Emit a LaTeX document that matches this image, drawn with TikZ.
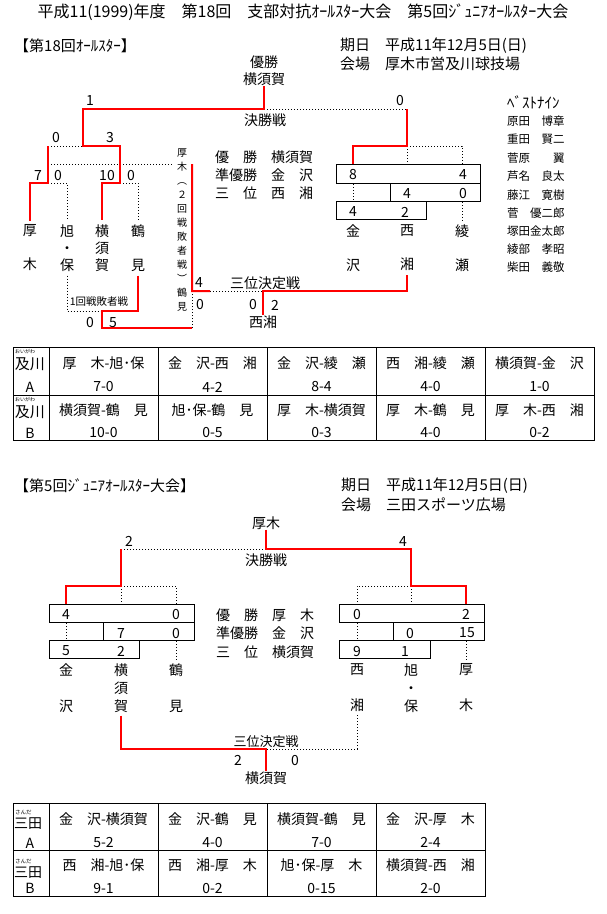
\documentclass[tikz,border=0pt]{standalone}
\usepackage{fontspec}
\setmainfont{Noto Sans CJK JP}
\usetikzlibrary{positioning}
\newcommand{\jfs}[1]{\fontsize{#1}{#1}\selectfont}

\begin{document}
\begin{tikzpicture}[x=1pt, y=-1pt,
	win/.style={draw=red, line width=2pt},
	lose/.style={draw=black, line width=1pt, dash pattern=on 1pt off 2pt},
	cell/.style={draw=black, line width=1pt},
	every node/.style={inner sep=0pt, font=\jfs{14}},
	team/.style={align=center, inner ysep=4pt, font=\fontsize{14}{17}\selectfont},
	teamb/.style={align=center, inner ysep=3pt, font=\fontsize{14}{18}\selectfont},
	small/.style={font=\jfs{10.5}}]
	\useasboundingbox (0,0) rectangle (607,914);
	
	\node[font=\jfs{16}] (title) at (303,12) {平成11(1999)年度　第18回　支部対抗ｵｰﾙｽﾀｰ大会　第5回ｼﾞｭﾆｱｵｰﾙｽﾀｰ大会};
	
	% 第18回オールスター
	\node[anchor=west, font=\jfs{15}] (head1) at (14,46) {【第18回ｵｰﾙｽﾀｰ】};
	\node[anchor=west, font=\jfs{15}] (date1) at (340,46) {期日　平成11年12月5日(日)};
	\node[anchor=west, font=\jfs{15}] (place1) at (340,64) {会場　厚木市営及川球技場};
	\node (champ1a) at (264,62) {優勝};
	\node[below=4pt of champ1a] (champ1) {横須賀};
	
	\coordinate (fin1) at (264,109);
	\coordinate (finR1) at (407,109);
	\coordinate (semi1) at (83,146);
	\coordinate (semiL1) at (48,146);
	\coordinate (semiR1) at (120,146);
	\coordinate (r1a) at (48,183);
	\coordinate (r1b) at (120,183);
	\coordinate (grp1) at (407,146);
	\coordinate (lb1) at (48,164);
	\coordinate (lb2) at (192,291);
	\coordinate (lb1s) at (102,311);
	\coordinate (lb1b) at (102,328);
	\coordinate (lb1c) at (192,328);
	\coordinate (third1L) at (210,291);
	\coordinate (third1) at (263,291);
	
	\node[team] (atsugi1) at (30,248) {厚\\\phantom{木}\\木};
	\node[team] (asahi1) at (67,248) {旭\\・\\保};
	\node[team] (yoko1) at (102,248) {横\\須\\賀};
	\node[team] (tsuru1) at (138,248) {鶴\\\phantom{見}\\見};
	\node[team] (kana1) at (353,248) {金\\\phantom{沢}\\沢};
	\node[team] (nishi1) at (407,248) {西\\\phantom{湘}\\湘};
	\node[team] (aya1) at (462,248) {綾\\\phantom{瀬}\\瀬};
	
	\node[cell, minimum width=144pt, minimum height=19pt, anchor=north west] (rr1a) at (336,164) {};
	\node[cell, minimum width=90pt, minimum height=18pt, anchor=north west] (rr1b) at (390,183) {};
	\node[cell, minimum width=90pt, minimum height=18pt, anchor=north west] (rr1c) at (336,201) {};
	
	\node[align=center, inner xsep=5pt, font=\fontsize{10}{14}\selectfont] (loser2nd) at (182,230) {厚\\木\\︵\\２\\回\\戦\\敗\\者\\戦\\︶\\鶴\\見};
	\node (bronze1) at (263,322) {西湘};
	
	\draw[lose] (fin1) -- (finR1);
	\draw[lose] (semiL1) -- (semi1);
	\draw[lose] (r1a) -| (asahi1.north);
	\draw[lose] (r1b) -| (tsuru1.north);
	\draw[lose] (grp1) -| (rr1a.north -| aya1);
	\draw[lose] (grp1) -- (rr1a.north -| nishi1);
	\draw[lose] (rr1a.south -| kana1) -- (rr1c.north -| kana1);
	\draw[lose] (rr1b.south -| aya1) -- (aya1.north);
	\draw[lose] (lb1) -- (lb1 -| loser2nd.west);
	\draw[lose] (third1L) -- (third1);
	\draw[lose] (asahi1.south) |- (lb1s);
	\draw[lose] (lb1c) -- (lb2);
	
	\draw[win] (champ1) -- (fin1) -| (semi1) -- (semiR1) -- (r1b) -| (yoko1.north);
	\draw[win] (semiL1) -- (r1a) -| (atsugi1.north);
	\draw[win] (finR1) -- (grp1) -| (rr1a.north -| kana1);
	\draw[win] (lb1 -| loser2nd.east) -- (lb2) -- (third1L);
	\draw[win] (nishi1.south) |- (third1) -- (bronze1);
	\draw[win] (tsuru1.south) |- (lb1s) -- (lb1b) -- (lb1c);
	
	\node (s1a) at (90,101) {1};
	\node (s1b) at (400,101) {0};
	\node (final1) at (265,120) {決勝戦};
	\node (s1c) at (56,138) {0};
	\node (s1d) at (110,138) {3};
	\node (s1e) at (38,176) {7};
	\node (s1f) at (58,176) {0};
	\node (s1g) at (107,176) {10};
	\node (s1h) at (131,176) {0};
	\node (s1i) at (199,283) {4};
	\node (s1j) at (200,305) {0};
	\node (thirdlbl1) at (265,283) {三位決定戦};
	\node (s1k) at (253,305) {0};
	\node (s1l) at (275,305) {2};
	\node[small] (lb1lbl) at (99,302) {1回戦敗者戦};
	\node (s1m) at (90,323) {0};
	\node (s1n) at (113,323) {5};
	
	\node (g1a) at (353,175) {8};
	\node (g1b) at (463,175) {4};
	\node (g1c) at (407,194) {4};
	\node (g1d) at (463,194) {0};
	\node (g1e) at (353,212) {4};
	\node (g1f) at (405,212) {2};
	
	\node[anchor=west] (res1a) at (215,157) {優　勝　横須賀};
	\node[anchor=west] (res1b) at (215,175) {準優勝　金　沢};
	\node[anchor=west] (res1c) at (215,193) {三　位　西　湘};
	
	\node[anchor=west, font=\jfs{15}] (best) at (507,102) {ﾍﾞｽﾄﾅｲﾝ};
	\node[anchor=west, font=\jfs{11.5}] (bn1) at (507,121) {原田　博章};
	\node[anchor=west, font=\jfs{11.5}] (bn2) at (507,139) {重田　賢二};
	\node[anchor=west, font=\jfs{11.5}] (bn3) at (507,158) {菅原　　翼};
	\node[anchor=west, font=\jfs{11.5}] (bn4) at (507,176) {芦名　良太};
	\node[anchor=west, font=\jfs{11.5}] (bn5) at (507,195) {藤江　寛樹};
	\node[anchor=west, font=\jfs{11.5}] (bn6) at (507,213) {菅　優二郎};
	\node[anchor=west, font=\jfs{11.5}] (bn7) at (507,231) {塚田金太郎};
	\node[anchor=west, font=\jfs{11.5}] (bn8) at (507,249) {綾部　孝昭};
	\node[anchor=west, font=\jfs{11.5}] (bn9) at (507,267) {柴田　義敬};
	
	% 及川 table
	\draw[cell] (13,347) rectangle (594,440);
	\draw[cell] (13,395) -- (594,395);
	\draw[cell] (49,347) -- (49,440);
	\draw[cell] (158,347) -- (158,440);
	\draw[cell] (267,347) -- (267,440);
	\draw[cell] (376,347) -- (376,440);
	\draw[cell] (485,347) -- (485,440);
	\node[anchor=west, font=\jfs{5}] (rubyA) at (15,351) {おいがわ};
	\node[font=\jfs{15}] (oiA) at (30,364) {及川};
	\node (oiAl) at (30,387) {A};
	\node[anchor=west, font=\jfs{5}] (rubyB) at (15,399) {おいがわ};
	\node[font=\jfs{15}] (oiB) at (30,412) {及川};
	\node (oiBl) at (30,433) {B};
	\node (ta1) at (103.5,363) {厚　木-旭･保};
	\node (ta2) at (212.5,363) {金　沢-西　湘};
	\node (ta3) at (321.5,363) {金　沢-綾　瀬};
	\node (ta4) at (430.5,363) {西　湘-綾　瀬};
	\node (ta5) at (539.5,363) {横須賀-金　沢};
	\node (sa1) at (103.5,387) {7-0};
	\node (sa2) at (212.5,387) {4-2};
	\node (sa3) at (321.5,387) {8-4};
	\node (sa4) at (430.5,387) {4-0};
	\node (sa5) at (539.5,387) {1-0};
	\node (tb1) at (103.5,410) {横須賀-鶴　見};
	\node (tb2) at (212.5,410) {旭･保-鶴　見};
	\node (tb3) at (321.5,410) {厚　木-横須賀};
	\node (tb4) at (430.5,410) {厚　木-鶴　見};
	\node (tb5) at (539.5,410) {厚　木-西　湘};
	\node (sb1) at (103.5,433) {10-0};
	\node (sb2) at (212.5,433) {0-5};
	\node (sb3) at (321.5,433) {0-3};
	\node (sb4) at (430.5,433) {4-0};
	\node (sb5) at (539.5,433) {0-2};
	
	% 第5回ジュニアオールスター
	\node[anchor=west, font=\jfs{15}] (head2) at (14,486) {【第5回ｼﾞｭﾆｱｵｰﾙｽﾀｰ大会】};
	\node[anchor=west, font=\jfs{15}] (date2) at (341,486) {期日　平成11年12月5日(日)};
	\node[anchor=west, font=\jfs{15}] (place2) at (341,505) {会場　三田スポーツ広場};
	\node (champ2) at (266,523) {厚木};
	
	\coordinate (fin2) at (266,549);
	\coordinate (finL2) at (121,549);
	\coordinate (finR2) at (411,549);
	\coordinate (grpL2) at (121,586);
	\coordinate (grpR2) at (411,586);
	\coordinate (third2) at (266,749);
	
	\node[cell, minimum width=145pt, minimum height=18pt, anchor=north west] (rr2a) at (49,604) {};
	\node[cell, minimum width=91pt, minimum height=18pt, anchor=north west] (rr2b) at (103,622) {};
	\node[cell, minimum width=90pt, minimum height=18pt, anchor=north west] (rr2c) at (49,640) {};
	\node[cell, minimum width=145pt, minimum height=18pt, anchor=north west] (rr3a) at (339,604) {};
	\node[cell, minimum width=91pt, minimum height=18pt, anchor=north west] (rr3b) at (393,622) {};
	\node[cell, minimum width=91pt, minimum height=18pt, anchor=north west] (rr3c) at (339,640) {};
	
	\node[teamb] (kana2) at (66,688) {金\\\phantom{沢}\\沢};
	\node[teamb] (yoko2) at (121,688) {横\\須\\賀};
	\node[teamb] (tsuru2) at (176,688) {鶴\\\phantom{見}\\見};
	\node[teamb] (nishi2) at (357,688) {西\\\phantom{湘}\\湘};
	\node[teamb] (asahi2) at (411,688) {旭\\・\\保};
	\node[teamb] (atsugi2) at (466,688) {厚\\\phantom{木}\\木};
	\node (bronze2) at (266,778) {横須賀};
	
	\draw[lose] (fin2) -- (finL2);
	\draw[lose] (grpL2) -| (rr2a.north -| tsuru2);
	\draw[lose] (grpL2) -- (rr2a.north -| yoko2);
	\draw[lose] (grpR2) -| (rr3a.north -| nishi2);
	\draw[lose] (grpR2) -- (rr3a.north -| asahi2);
	\draw[lose] (rr2a.south -| kana2) -- (rr2c.north -| kana2);
	\draw[lose] (rr2b.south -| tsuru2) -- (tsuru2.north);
	\draw[lose] (rr3a.south -| nishi2) -- (rr3c.north -| nishi2);
	\draw[lose] (rr3b.south -| atsugi2) -- (atsugi2.north);
	\draw[lose] (nishi2.south) |- (third2);
	
	\draw[win] (champ2) -- (fin2) -- (finR2) -- (grpR2) -| (rr3a.north -| atsugi2);
	\draw[win] (finL2) -- (grpL2) -| (rr2a.north -| kana2);
	\draw[win] (yoko2.south) |- (third2) -- (bronze2);
	
	\node (s2a) at (129,541) {2};
	\node (s2b) at (403,541) {4};
	\node (final2) at (266,560) {決勝戦};
	\node[font=\jfs{13}] (thirdlbl2) at (266,742) {三位決定戦};
	\node (s2c) at (238,760) {2};
	\node (s2d) at (295,760) {0};
	
	\node (g2a) at (66,614) {4};
	\node (g2b) at (176,614) {0};
	\node (g2c) at (121,633) {7};
	\node (g2d) at (176,633) {0};
	\node (g2e) at (66,651) {5};
	\node (g2f) at (121,651) {2};
	\node (g3a) at (357,614) {0};
	\node (g3b) at (466,614) {2};
	\node (g3c) at (410,633) {0};
	\node (g3d) at (467,633) {15};
	\node (g3e) at (357,651) {9};
	\node (g3f) at (405,651) {1};
	
	\node[anchor=west] (res2a) at (216,615) {優　勝　厚　木};
	\node[anchor=west] (res2b) at (216,633) {準優勝　金　沢};
	\node[anchor=west] (res2c) at (216,652) {三　位　横須賀};
	
	% 三田 table
	\draw[cell] (13,803) rectangle (485,896);
	\draw[cell] (13,850) -- (485,850);
	\draw[cell] (49,803) -- (49,896);
	\draw[cell] (158,803) -- (158,896);
	\draw[cell] (267,803) -- (267,896);
	\draw[cell] (376,803) -- (376,896);
	\node[anchor=west, font=\jfs{5.5}] (rubyC) at (15,812) {さんだ};
	\node (sanC) at (28,824) {三田};
	\node (sanCl) at (30,843) {A};
	\node[anchor=west, font=\jfs{5.5}] (rubyD) at (15,861) {さんだ};
	\node (sanD) at (28,873) {三田};
	\node (sanDl) at (30,888) {B};
	\node (tc1) at (103.5,819) {金　沢-横須賀};
	\node (tc2) at (212.5,819) {金　沢-鶴　見};
	\node (tc3) at (321.5,819) {横須賀-鶴　見};
	\node (tc4) at (430.5,819) {金　沢-厚　木};
	\node (sc1) at (103.5,842) {5-2};
	\node (sc2) at (212.5,842) {4-0};
	\node (sc3) at (321.5,842) {7-0};
	\node (sc4) at (430.5,842) {2-4};
	\node (td1) at (103.5,865) {西　湘-旭･保};
	\node (td2) at (212.5,865) {西　湘-厚　木};
	\node (td3) at (321.5,865) {旭･保-厚　木};
	\node (td4) at (430.5,865) {横須賀-西　湘};
	\node (sd1) at (103.5,888) {9-1};
	\node (sd2) at (212.5,888) {0-2};
	\node (sd3) at (321.5,888) {0-15};
	\node (sd4) at (430.5,888) {2-0};
	
\end{tikzpicture}
\end{document}
